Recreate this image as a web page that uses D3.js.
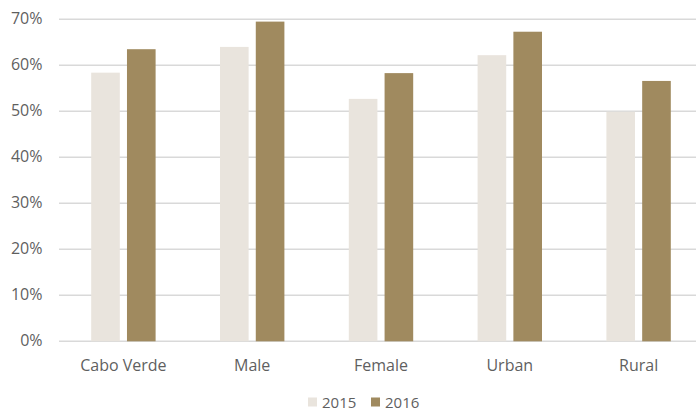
<!DOCTYPE html>
<meta charset="utf-8">
<style>
  body { margin: 0; background: #fff; }
  svg text { font-family: "Open Sans", sans-serif; fill: #5f5f5f; }
  .grid line { stroke: #d9d9d9; stroke-width: 1.5; }
</style>
<body>
<svg id="chart" width="696" height="412"></svg>
<script src="https://d3js.org/d3.v7.min.js"></script>
<script>
  var categories = ["Cabo Verde", "Male", "Female", "Urban", "Rural"];
  var series = ["2015", "2016"];
  var values2015 = [0.584, 0.640, 0.527, 0.622, 0.499];
  var values2016 = [0.635, 0.695, 0.583, 0.673, 0.566];
  var yTicks = [0, 0.1, 0.2, 0.3, 0.4, 0.5, 0.6, 0.7];
  var colors = ["#e9e4dd", "#a08a5f"];

  var svg = d3.select("#chart");
  var top0 = 19.3, bottom0 = 341.3, left0 = 59, right0 = 703;

  var x = d3.scaleBand().domain(categories).range([left0, right0]).padding(0);
  var x1 = d3.scaleBand().domain(series)
    .range([x.bandwidth() * 0.25, x.bandwidth() * 0.75])
    .paddingInner(0.2);
  var y = d3.scaleLinear().domain([0, 0.7]).range([bottom0, top0]);

  // gridlines
  svg.append("g").attr("class", "grid")
    .selectAll("line").data(yTicks).enter().append("line")
    .attr("x1", left0).attr("x2", 696)
    .attr("y1", function (d) { return y(d); })
    .attr("y2", function (d) { return y(d); });

  // y labels
  svg.append("g").selectAll("text").data(yTicks).enter().append("text")
    .attr("x", 42.5).attr("y", function (d) { return y(d) - 1; })
    .attr("dy", "0.35em")
    .attr("text-anchor", "end")
    .style("font-size", "16px")
    .text(d3.format(".0%"));

  var data = categories.map(function (c, i) {
    return { cat: c, vals: [values2015[i], values2016[i]] };
  });

  var groups = svg.append("g").selectAll("g").data(data).enter().append("g")
    .attr("transform", function (d) { return "translate(" + x(d.cat) + ",0)"; });

  groups.selectAll("rect")
    .data(function (d) { return d.vals.map(function (v, j) { return { s: series[j], v: v, j: j }; }); })
    .enter().append("rect")
    .attr("x", function (d) { return x1(d.s); })
    .attr("width", x1.bandwidth())
    .attr("y", function (d) { return y(d.v); })
    .attr("height", function (d) { return y(0) - y(d.v); })
    .attr("fill", function (d) { return colors[d.j]; });

  // category labels
  svg.append("g").selectAll("text").data(categories).enter().append("text")
    .attr("x", function (d) { return x(d) + x.bandwidth() / 2; })
    .attr("y", 370.7)
    .attr("text-anchor", "middle")
    .style("font-size", "16px")
    .text(function (d) { return d; });

  // legend
  var legend = svg.append("g").selectAll("g").data(series).enter().append("g")
    .attr("transform", function (d, i) { return "translate(" + (308 + i * 63) + ",397.5)"; });
  legend.append("rect").attr("width", 9).attr("height", 9)
    .attr("fill", function (d, i) { return colors[i]; });
  legend.append("text").attr("x", 14).attr("y", 10)
    .style("font-size", "15px")
    .text(function (d) { return d; });
</script>
</body>
